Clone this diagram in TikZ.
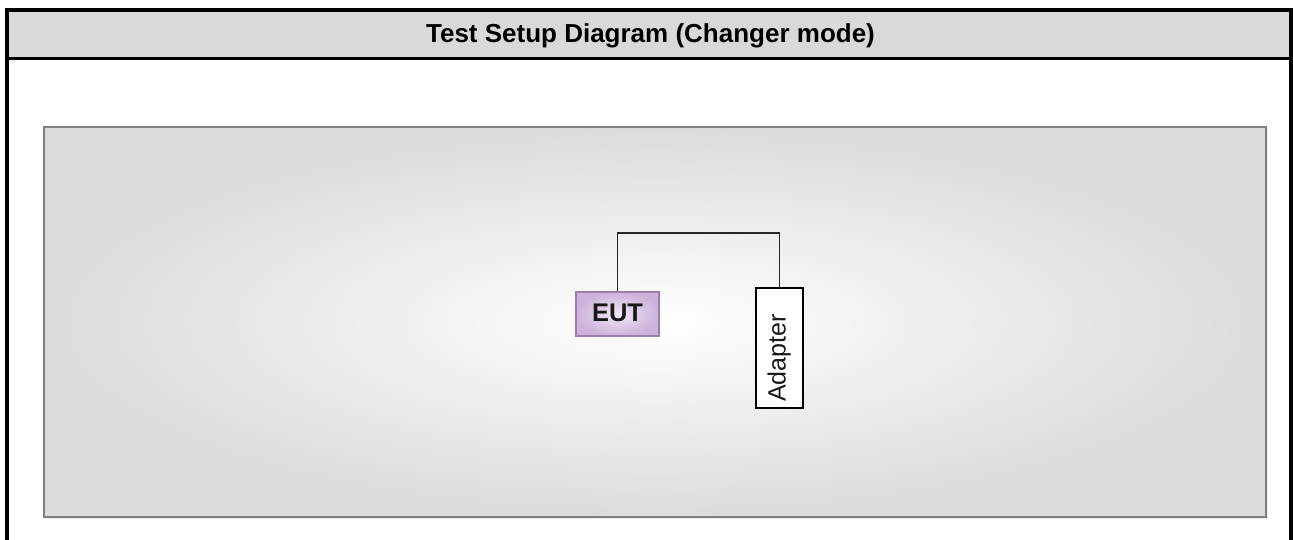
\documentclass[tikz,border=0pt]{standalone}
\usepackage{fontspec}
\setmainfont{Liberation Sans}
\definecolor{headgray}{HTML}{D9D9D9}
\definecolor{panelborder}{HTML}{7F7F7F}
\definecolor{eutborder}{HTML}{9C7DAE}
\definecolor{eutin}{HTML}{F1E6F5}
\definecolor{eutout}{HTML}{CDB2DB}
\tikzset{
  frameline/.style={line width=4pt, black},
  panel/.style={draw=panelborder, line width=2pt, inner color=white, outer color=black!14},
  eutbox/.style={draw=eutborder, line width=1.2pt, inner color=eutin, outer color=eutout,
     minimum width=83pt, minimum height=44pt, inner sep=0pt,
     font=\fontsize{25.5}{28}\selectfont\bfseries, text=black!90},
  adapterbox/.style={draw=black, line width=1.3pt, fill=white,
     minimum width=47pt, minimum height=120pt, inner sep=0pt},
  adaptertext/.style={rotate=90, anchor=base west, inner sep=0pt,
     font=\fontsize{25}{28}\selectfont, text=black!90},
  wire/.style={draw=black!85, line width=1.6pt},
  titletext/.style={font=\fontsize{26}{30}\selectfont\bfseries, anchor=base}
}
\begin{document}
\begin{tikzpicture}[x=1pt,y=1pt]
\useasboundingbox (0,0) rectangle (1293,540);
% header
\fill[headgray] (7,530) rectangle (1291,481.5);
\node[titletext] (title) at (650.5,497) {Test Setup Diagram (Changer mode)};
\draw[frameline] (7,0) -- (7,530) -- (1291,530) -- (1291,0);
\draw[line width=3.5pt] (7,481.5) -- (1291,481.5);
% panel
\fill[black!8] (46,21) rectangle (1268,411);
\path[panel] (44,23) rectangle (1266,413);
% nodes
\node[eutbox] (eut) at (617.5,226) {\raisebox{2pt}{EUT}};
\node[adapterbox] (adapter) at (779.5,192) {};
\node[adaptertext] (adaptertxt) at (785.5,138) {Adapter};
\coordinate (c1) at (617.5,307);
\coordinate (c2) at (779.5,307);
\draw[wire] (eut.north) -- (c1) -- (c2) -- (adapter.north);
\end{tikzpicture}
\end{document}
